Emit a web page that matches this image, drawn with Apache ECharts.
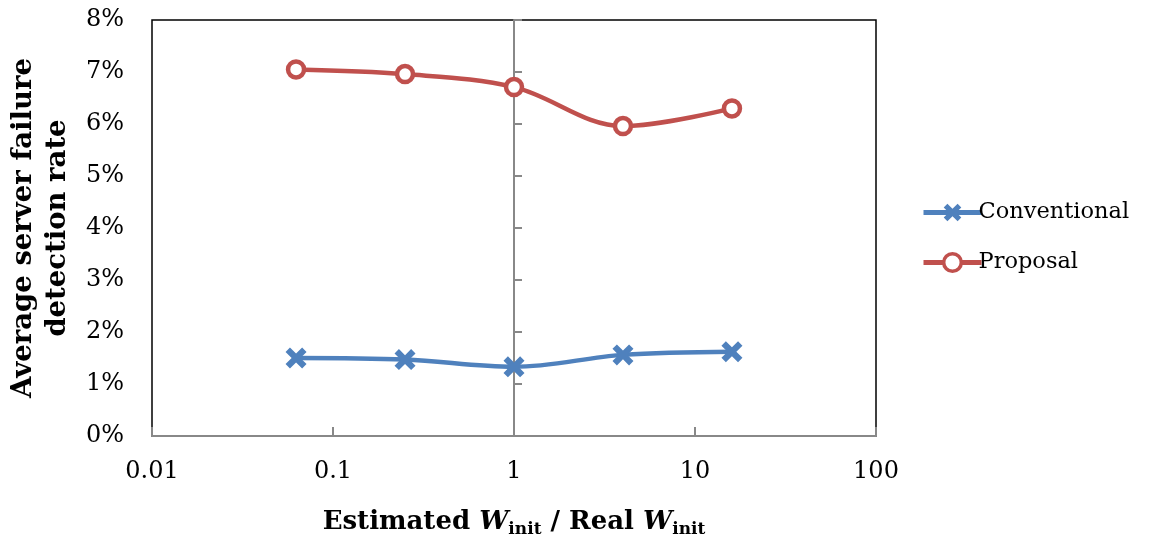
<!DOCTYPE html>
<html>
<head>
<meta charset="utf-8">
<script src="https://cdn.jsdelivr.net/npm/echarts@6/dist/echarts.min.js"></script>
<style>
  html, body { margin: 0; padding: 0; background: #ffffff; }
  #chart { width: 1166px; height: 540px; }
</style>
</head>
<body>
<div id="chart"></div>
<script>
// Ratio of estimated to real initial window (log scale)
const ratios = [0.0625, 0.25, 1, 4, 16];
// Average server failure detection rate, in percent
const conventional = [1.50, 1.47, 1.33, 1.56, 1.62];
const proposal = [7.05, 6.96, 6.71, 5.96, 6.30];
const seriesNames = ['Conventional', 'Proposal'];
const xTickLabels = ['0.01', '0.1', '1', '10', '100'];
const yTickLabels = ['0%', '1%', '2%', '3%', '4%', '5%', '6%', '7%', '8%'];

const FONT = 'DejaVu Serif';
const BLUE = '#4F81BD';
const RED = '#C0504D';
const CROSS = 'path://M0,2.1 L2.1,0 L5,2.9 L7.9,0 L10,2.1 L7.1,5 L10,7.9 L7.9,10 L5,7.1 L2.1,10 L0,7.9 L2.9,5 Z';

const pairs = vals => ratios.map((r, i) => [r, vals[i]]);

const chart = echarts.init(document.getElementById('chart'), null, { renderer: 'canvas' });
chart.setOption({
  animation: false,
  backgroundColor: '#ffffff',
  textStyle: { fontFamily: FONT, color: '#000' },
  grid: {
    left: 152, right: 290, top: 20, bottom: 104,
    containLabel: false, outerBoundsMode: 'none',
    show: true, borderColor: '#000', borderWidth: 1.5, backgroundColor: 'transparent'
  },
  legend: {
    orient: 'vertical',
    left: 916, top: 196,
    itemWidth: 58, itemHeight: 22, itemGap: 27,
    lineStyle: { width: 5 },
    textStyle: { fontFamily: FONT, fontSize: 22.5, color: '#000', padding: [0, 0, 0, -8] },
    data: [
      { name: seriesNames[0] },
      { name: seriesNames[1], itemStyle: { borderWidth: 3.5 } }
    ]
  },
  xAxis: {
    type: 'log', logBase: 10, min: 0.01, max: 100,
    name: 'Estimated {w|W}{s|init} / Real {w|W}{s|init}',
    nameLocation: 'middle', nameGap: 71,
    nameTextStyle: {
      fontFamily: FONT, fontSize: 26, fontWeight: 'bold', color: '#000',
      rich: {
        w: { fontFamily: FONT, fontSize: 26, fontWeight: 'bold', fontStyle: 'italic', color: '#000' },
        s: { fontFamily: FONT, fontSize: 17, fontWeight: 'bold', color: '#000', padding: [14, 0, 0, 0] }
      }
    },
    axisLine: { onZero: false, lineStyle: { color: '#888', width: 2 } },
    axisTick: { inside: true, length: 9, lineStyle: { color: '#888', width: 2 } },
    splitLine: { show: false },
    minorTick: { show: false },
    axisLabel: {
      margin: 24, fontFamily: FONT, fontSize: 24, color: '#000',
      formatter: v => xTickLabels[Math.round(Math.log10(v)) + 2]
    }
  },
  yAxis: [{
    type: 'value', min: 0, max: 8, interval: 1,
    name: 'Average server failure\ndetection rate',
    nameLocation: 'middle', nameRotate: 90, nameGap: 70,
    nameTextStyle: { fontFamily: FONT, fontSize: 27.5, fontWeight: 'bold', color: '#000', lineHeight: 34 },
    axisLine: { show: false },
    axisTick: { show: false },
    splitLine: { show: false },
    axisLabel: {
      margin: 28, fontFamily: FONT, fontSize: 24, color: '#000',
      formatter: v => yTickLabels[Math.round(v)]
    }
  }, {
    // vertical axis crossing the horizontal axis at 1
    type: 'value', min: 0, max: 8, interval: 1,
    position: 'left', offset: -362,
    axisLine: { show: true, onZero: false, lineStyle: { color: '#888', width: 2 } },
    axisTick: { show: true, inside: true, length: 8, lineStyle: { color: '#888', width: 2 } },
    axisLabel: { show: false },
    splitLine: { show: false }
  }],
  series: [{
    name: seriesNames[0],
    type: 'line',
    data: pairs(conventional),
    smooth: 0.35,
    symbol: CROSS, symbolSize: 21,
    lineStyle: { color: BLUE, width: 4.5 },
    itemStyle: { color: BLUE, borderWidth: 0 },
    z: 3
  }, {
    name: seriesNames[1],
    type: 'line',
    data: pairs(proposal),
    smooth: 0.35,
    symbol: 'circle', symbolSize: 16,
    lineStyle: { color: RED, width: 4.5 },
    itemStyle: { color: '#fff', borderColor: RED, borderWidth: 4.5 },
    z: 3
  }]
});
</script>
</body>
</html>
